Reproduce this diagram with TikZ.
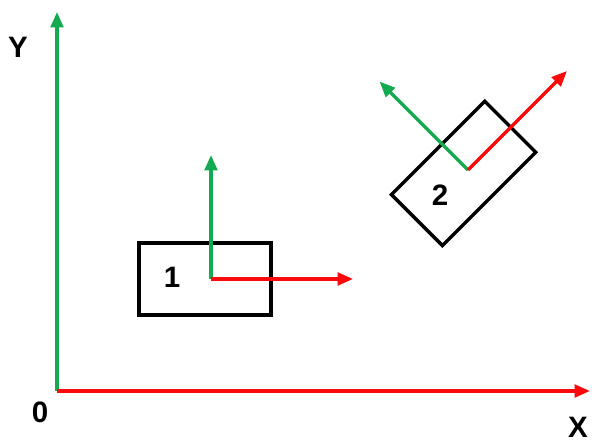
\documentclass[tikz,border=0pt]{standalone}
\usepackage{fontspec}
\setmainfont{Liberation Sans}
\usepackage{tikz}
\usetikzlibrary{arrows.meta, positioning}
\definecolor{axisgreen}{RGB}{20,170,80}
\definecolor{axisred}{RGB}{250,10,10}
\tikzset{
	xarrow/.style={draw=axisred, line width=2.4pt, -{Triangle[length=11pt, width=9pt]}},
	yarrow/.style={draw=axisgreen, line width=2.4pt, -{Triangle[length=11pt, width=9pt]}},
	frame/.style={draw=black, line width=2.4pt, minimum width=3.3cm, minimum height=1.8cm, inner sep=0pt},
	tag/.style={font=\fontsize{21}{23}\selectfont\bfseries, inner sep=0pt}
}

\begin{document}
\begin{tikzpicture}
	\useasboundingbox (0, 0) rectangle (14.8, 11.075);
	% World axes:
	\coordinate (O) at (1.425, 1.3);
	\coordinate (Xtip) at (14.75, 1.3);
	\coordinate (Ytip) at (1.425, 10.775);
	\draw[yarrow] (O) -- (Ytip);
	\draw[xarrow] (O) -- (Xtip);
	\node[tag](Ylab) at (0.45, 9.9){Y};
	\node[tag](Olab) at (1.0, 0.775){0};
	\node[tag](Xlab) at (14.45, 0.4){X};
	% Body 1:
	\node[frame](B1) at (5.125, 4.1){};
	\coordinate (O1) at (5.275, 4.1);
	\coordinate (X1) at ([shift={(0:3.55)}]O1);
	\coordinate (Y1) at ([shift={(90:3.1)}]O1);
	\draw[yarrow] (O1) -- (Y1);
	\draw[xarrow] (O1) -- (X1);
	\node[tag](L1) at (4.3, 4.15){1};
	% Body 2, turned by 45 degrees:
	\node[frame, rotate=45](B2) at (11.59, 6.74){};
	\coordinate (O2) at (11.7, 6.825);
	\coordinate (X2) at ([shift={(45:3.5)}]O2);
	\coordinate (Y2) at ([shift={(135:3.125)}]O2);
	\draw[yarrow] (O2) -- (Y2);
	\draw[xarrow] (O2) -- (X2);
	\node[tag](L2) at (11.0, 6.2){2};
\end{tikzpicture}
\end{document}
